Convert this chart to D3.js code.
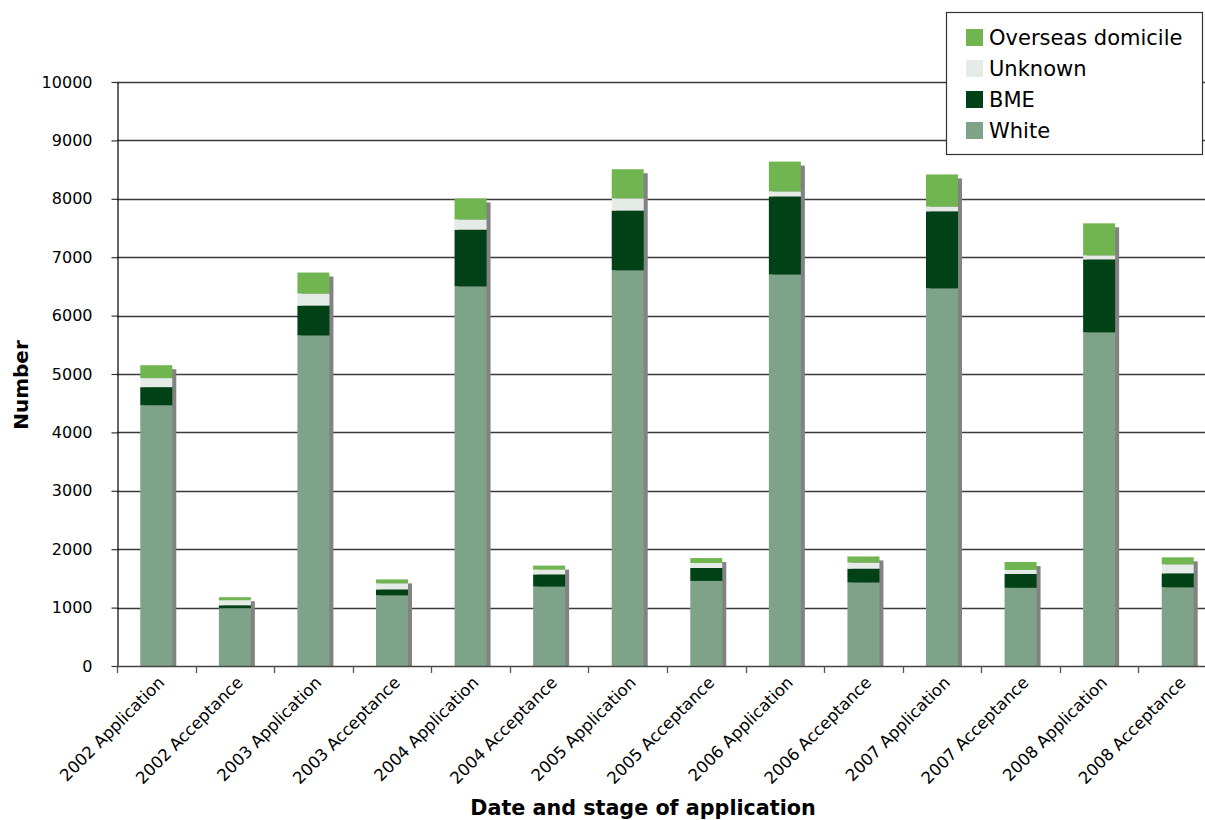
<!DOCTYPE html>
<html>
<head>
<meta charset="utf-8">
<script src="https://cdn.jsdelivr.net/npm/d3@7"></script>
<style>
  html, body { margin: 0; padding: 0; background: #fff; }
  svg { display: block; }
</style>
</head>
<body>
<svg id="chart" width="1205" height="820"></svg>
<script>
// Stage of application, by year
const categories = [
  "2002 Application", "2002 Acceptance",
  "2003 Application", "2003 Acceptance",
  "2004 Application", "2004 Acceptance",
  "2005 Application", "2005 Acceptance",
  "2006 Application", "2006 Acceptance",
  "2007 Application", "2007 Acceptance",
  "2008 Application", "2008 Acceptance"
];

// Stacked series, bottom to top
const white    = [4465, 990, 5660, 1210, 6500, 1360, 6775, 1457, 6703, 1430, 6466, 1339, 5713, 1347];
const bme      = [310, 50, 512, 102, 972, 209, 1024, 221, 1338, 237, 1320, 237, 1250, 240];
const unknown  = [155, 85, 206, 103, 174, 81, 209, 86, 86, 104, 81, 68, 69, 154];
const overseas = [220, 53, 359, 68, 359, 69, 498, 84, 510, 105, 550, 136, 548, 120];

const seriesNames = ["White", "BME", "Unknown", "Overseas domicile"];
const seriesColors = ["#7fa389", "#004216", "#e5ebe7", "#70b54f"];
const yTicks = [0, 1000, 2000, 3000, 4000, 5000, 6000, 7000, 8000, 9000, 10000];

const svg = d3.select("#chart");
const plotLeft = 117, plotRight = 1217, plotTop = 82, plotBottom = 666;

const x = d3.scaleBand().domain(categories).range([plotLeft, plotRight]).paddingInner(0).paddingOuter(0);
const y = d3.scaleLinear().domain([0, 10000]).range([plotBottom, plotTop]);
const barW = 32;

// Stack layout
const rows = categories.map((c, i) => ({
  cat: c, White: white[i], BME: bme[i], Unknown: unknown[i], "Overseas domicile": overseas[i]
}));
const stacked = d3.stack().keys(seriesNames)(rows);
const totals = rows.map((r, i) => white[i] + bme[i] + unknown[i] + overseas[i]);

// Horizontal gridlines
svg.append("g")
  .selectAll("line")
  .data(yTicks.filter(t => t > 0))
  .join("line")
  .attr("x1", plotLeft).attr("x2", 1205)
  .attr("y1", d => Math.round(y(d)) + 0.5).attr("y2", d => Math.round(y(d)) + 0.5)
  .attr("stroke", "#3a3a3a").attr("stroke-width", 1.3);

// Bar shadows
const barX = c => x(c) + (x.bandwidth() - barW) / 2;
svg.append("g")
  .selectAll("rect")
  .data(categories)
  .join("rect")
  .attr("x", c => barX(c) + 4)
  .attr("y", (c, i) => y(totals[i]) + 4)
  .attr("width", barW)
  .attr("height", (c, i) => plotBottom - y(totals[i]) - 4)
  .attr("fill", "#828282");

// Stacked bars
svg.append("g")
  .selectAll("g")
  .data(stacked)
  .join("g")
  .attr("fill", (d, i) => seriesColors[i])
  .selectAll("rect")
  .data(d => d)
  .join("rect")
  .attr("x", d => barX(d.data.cat))
  .attr("y", d => y(d[1]))
  .attr("width", barW)
  .attr("height", d => y(d[0]) - y(d[1]));

// Y axis
const yAxis = d3.axisLeft(y).tickValues(yTicks).tickFormat(d3.format("d"))
  .tickSize(6).tickSizeOuter(0).tickPadding(19);
const gy = svg.append("g").attr("transform", `translate(${plotLeft + 0.5},0)`).call(yAxis);
gy.select(".domain").attr("stroke", "#000").attr("stroke-width", 1.2);
gy.selectAll(".tick line").attr("stroke", "#333").attr("stroke-width", 1.2);
gy.selectAll(".tick text")
  .attr("font-family", "DejaVu Sans, Verdana, sans-serif")
  .attr("font-size", 16).attr("fill", "#000");

// X axis
const xAxis = d3.axisBottom(x).tickSize(0).tickSizeOuter(0);
const gx = svg.append("g").attr("transform", `translate(0,${plotBottom + 0.5})`).call(xAxis);
gx.select(".domain").attr("d", `M${plotLeft},0H1205`).attr("stroke", "#444").attr("stroke-width", 1.5);
gx.selectAll(".tick text")
  .attr("font-family", "DejaVu Sans, Verdana, sans-serif")
  .attr("font-size", 16.5)
  .attr("fill", "#000")
  .attr("text-anchor", "end")
  .attr("transform", "translate(5,13) rotate(-45)")
  .attr("dy", "0.35em")
  .attr("y", 0).attr("x", 0);

// Category boundary ticks
svg.append("g")
  .selectAll("line")
  .data(categories.map(c => x(c)).concat([plotRight]).filter(v => v <= 1205))
  .join("line")
  .attr("x1", d => Math.round(d) + 0.5).attr("x2", d => Math.round(d) + 0.5)
  .attr("y1", plotBottom).attr("y2", plotBottom + 7)
  .attr("stroke", "#555").attr("stroke-width", 1.3);

// Axis titles
svg.append("text")
  .attr("x", 643).attr("y", 815)
  .attr("text-anchor", "middle")
  .attr("font-family", "DejaVu Sans, Verdana, sans-serif")
  .attr("font-weight", "bold").attr("font-size", 20.7)
  .text("Date and stage of application");

svg.append("text")
  .attr("transform", "translate(28,385) rotate(-90)")
  .attr("text-anchor", "middle")
  .attr("font-family", "DejaVu Sans, Verdana, sans-serif")
  .attr("font-weight", "bold").attr("font-size", 20)
  .text("Number");

// Legend
const legend = svg.append("g");
legend.append("rect")
  .attr("x", 946.5).attr("y", 12.5).attr("width", 256).attr("height", 142)
  .attr("fill", "#fff").attr("stroke", "#333").attr("stroke-width", 1.2);
const legendOrder = ["Overseas domicile", "Unknown", "BME", "White"];
const li = legend.selectAll("g.item")
  .data(legendOrder)
  .join("g")
  .attr("class", "item")
  .attr("transform", (d, i) => `translate(966,${29 + i * 31})`);
li.append("rect")
  .attr("width", 17).attr("height", 17)
  .attr("fill", d => seriesColors[seriesNames.indexOf(d)]);
li.append("text")
  .attr("x", 23).attr("y", 9).attr("dy", "0.35em")
  .attr("font-family", "DejaVu Sans, Verdana, sans-serif")
  .attr("font-size", 21).attr("fill", "#000")
  .text(d => d);
</script>
</body>
</html>
